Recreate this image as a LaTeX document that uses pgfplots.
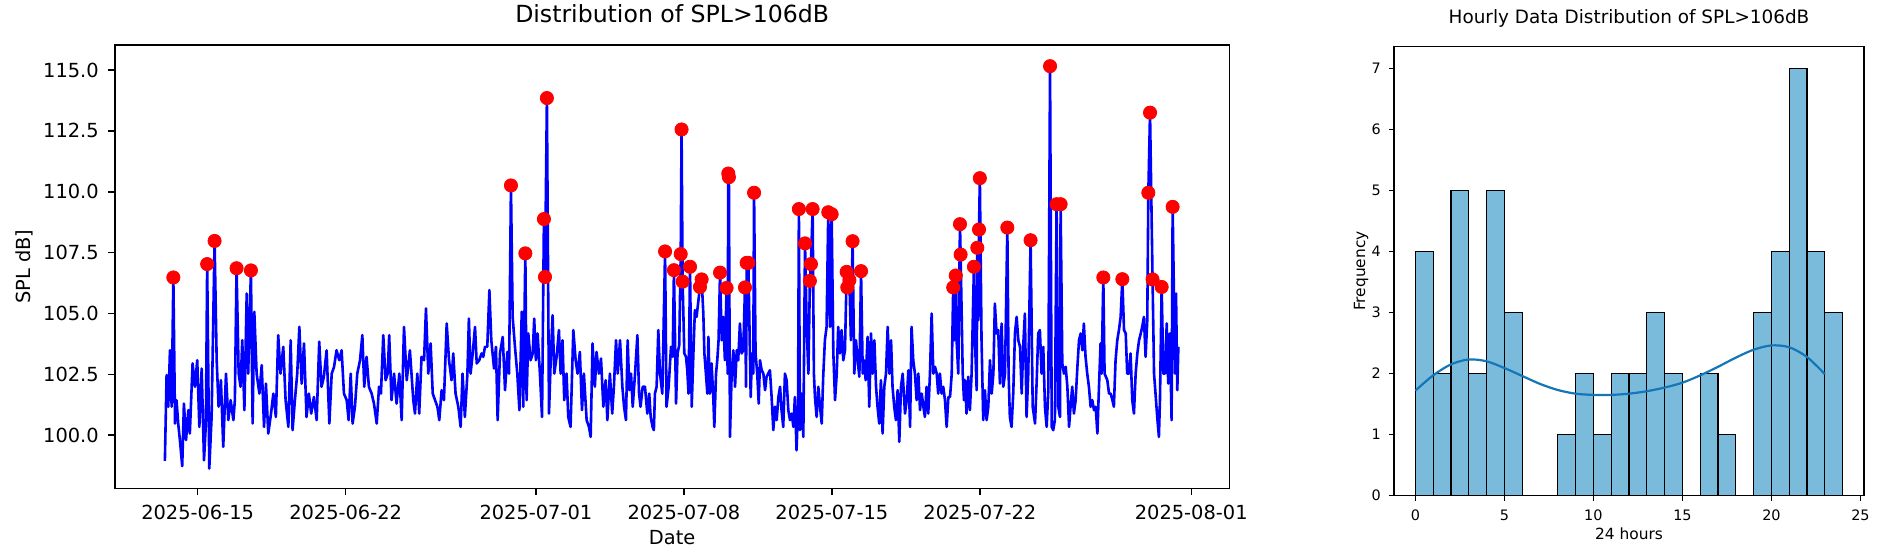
\documentclass[border=0pt]{standalone}
\usepackage{fontspec}
\setmainfont{DejaVu Sans}
\usepackage{pgfplots}
\pgfplotsset{compat=1.18}
\definecolor{histfill}{RGB}{122,187,220}
\definecolor{kdeline}{RGB}{20,118,182}
\begin{document}
\begin{tikzpicture}
\path[use as bounding box] (0,0) rectangle (942.5pt,280pt);
\begin{axis}[
  at={(57.5pt,35.85pt)}, anchor=south west,
  width=557.15pt, height=221.65pt, scale only axis,
  xmin=-3.91, xmax=48.8, ymin=97.82, ymax=116.03,
  xtick={0,7,16,23,30,37,47},
  xticklabels={2025-06-15,2025-06-22,2025-07-01,2025-07-08,2025-07-15,2025-07-22,2025-08-01},
  ytick={100,102.5,105,107.5,110,112.5,115},
  yticklabels={100.0,102.5,105.0,107.5,110.0,112.5,115.0},
  tick align=outside, tick pos=left, major tick length=3.4pt,
  tick style={black, line width=0.75pt},
  axis line style={black, line width=0.75pt},
  ticklabel style={font=\fontsize{9.7}{10}\selectfont},
  xticklabel style={yshift=-1.5pt},
  yticklabel style={xshift=-1.2pt},
  title={Distribution of SPL>106dB},
  title style={at={(axis description cs:0.5,1.0435)}, anchor=center, font=\fontsize{11.8}{12}\selectfont},
  xlabel={Date},
  xlabel style={at={(axis description cs:0.5,-0.111)}, anchor=center, font=\fontsize{9.7}{10}\selectfont},
  ylabel={SPL dB]},
  ylabel style={at={(axis description cs:-0.0812,0.5)}, anchor=center, font=\fontsize{9.7}{10}\selectfont},
  clip=true,
]
\addplot[only marks, mark=*, mark size=3.3pt, color=red, mark options={fill=red, draw=red}] coordinates {
(-1.15,106.48) (0.45,107.03) (0.80,107.98) (1.84,106.86) (2.52,106.77)
(14.82,110.26) (15.50,107.47) (16.38,108.88) (16.43,106.50) (16.52,113.85)
(22.11,107.55) (22.53,106.78) (22.85,107.44) (22.89,112.56) (22.94,106.31)
(23.29,106.92) (23.76,106.09) (23.84,106.40) (24.71,106.68) (25.02,106.05)
(25.10,110.75) (25.13,110.60) (25.89,106.07) (25.97,107.08) (26.05,107.08)
(26.32,109.96) (28.44,109.29) (28.73,107.88) (28.96,106.34) (29.01,107.03)
(29.09,109.29) (29.83,109.16) (29.99,109.08) (30.70,106.71) (30.73,106.07)
(30.83,106.37) (30.98,107.97) (31.38,106.74) (35.74,106.07) (35.86,106.56)
(36.06,108.67) (36.09,107.42) (36.72,106.92) (36.88,107.70) (36.96,108.45)
(37.00,110.56) (38.30,108.53) (39.40,108.01) (40.32,115.16) (40.63,109.49)
(40.82,109.49) (42.84,106.48) (43.74,106.41) (44.97,109.96) (45.05,113.25)
(45.17,106.40) (45.60,106.09) (46.12,109.38)
};
\addplot[color=blue, line width=1.3pt, line join=round, mark=none] coordinates {
(-1.55,98.95) (-1.47,102.47) (-1.39,101.17) (-1.31,103.49) (-1.23,101.17) (-1.15,106.48) (-1.07,100.48) (-1.00,101.44) (-0.92,100.48) (-0.84,99.80)
(-0.73,98.73) (-0.65,101.30) (-0.55,99.80) (-0.44,101.03) (-0.37,100.07) (-0.24,102.95) (-0.13,101.99) (-0.02,103.08) (0.08,100.34) (0.19,102.74)
(0.30,98.97) (0.39,100.48) (0.45,107.03) (0.55,98.63) (0.66,100.75) (0.80,107.98) (0.90,103.08) (0.99,101.17) (1.10,102.26) (1.21,99.52)
(1.34,102.53) (1.45,100.62) (1.56,101.44) (1.69,100.62) (1.76,101.44) (1.84,106.86) (1.94,102.53) (2.03,101.99) (2.11,103.90) (2.21,101.03)
(2.32,105.82) (2.39,102.53) (2.52,106.77) (2.60,100.48) (2.68,105.07) (2.79,102.53) (2.92,101.71) (3.03,102.88) (3.14,100.34) (3.23,102.12)
(3.34,100.07) (3.47,100.89) (3.58,101.71) (3.70,100.75) (3.81,104.11) (3.92,102.53) (4.05,103.63) (4.16,101.44) (4.29,100.34) (4.40,103.90)
(4.49,100.21) (4.60,101.44) (4.71,102.53) (4.81,104.45) (4.92,102.12) (5.03,103.77) (5.15,100.75) (5.26,101.71) (5.37,100.89) (5.50,101.57)
(5.63,100.62) (5.75,103.84) (5.86,101.99) (5.97,102.40) (6.10,103.49) (6.23,100.48) (6.34,102.53) (6.45,102.80) (6.57,103.49) (6.70,103.08)
(6.81,103.49) (6.92,101.71) (7.05,101.44) (7.14,100.62) (7.24,102.53) (7.33,100.48) (7.44,101.17) (7.55,102.53) (7.68,103.08) (7.79,104.11)
(7.88,101.99) (7.99,103.22) (8.10,101.99) (8.23,101.71) (8.34,101.30) (8.47,100.48) (8.58,101.99) (8.67,101.71) (8.78,104.11) (8.89,102.26)
(8.99,102.53) (9.06,104.11) (9.17,101.44) (9.29,102.53) (9.41,101.30) (9.54,102.53) (9.65,100.62) (9.76,104.45) (9.89,102.26) (10.04,103.49)
(10.20,101.44) (10.28,100.89) (10.39,102.53) (10.48,100.89) (10.59,103.22) (10.71,103.08) (10.80,105.21) (10.91,102.53) (11.02,103.77) (11.12,101.71)
(11.23,101.44) (11.34,101.17) (11.43,100.62) (11.54,101.85) (11.65,101.44) (11.78,104.59) (11.89,103.08) (12.01,102.26) (12.09,103.36) (12.20,101.71)
(12.33,101.17) (12.44,100.34) (12.53,102.53) (12.64,100.75) (12.76,102.53) (12.83,104.79) (12.91,102.53) (13.01,103.36) (13.12,104.45) (13.20,102.95)
(13.32,103.08) (13.43,103.36) (13.51,103.22) (13.59,103.63) (13.70,103.63) (13.80,105.96) (13.89,103.90) (14.02,102.74) (14.11,103.63) (14.19,100.62)
(14.30,103.36) (14.43,104.04) (14.54,101.85) (14.65,103.42) (14.73,102.53) (14.82,110.26) (14.90,104.86) (15.01,103.63) (15.12,102.53) (15.22,101.03)
(15.33,105.07) (15.40,101.17) (15.50,107.47) (15.56,101.44) (15.64,104.18) (15.75,103.08) (15.85,103.36) (15.92,104.79) (16.00,103.08) (16.08,104.18)
(16.19,102.53) (16.29,100.75) (16.38,108.88) (16.43,106.50) (16.52,113.85) (16.62,100.89) (16.70,103.08) (16.79,104.93) (16.87,102.53) (16.98,103.22)
(17.09,104.32) (17.17,102.53) (17.26,103.90) (17.34,101.44) (17.45,102.53) (17.53,100.75) (17.64,100.34) (17.77,104.32) (17.88,103.08) (17.97,102.53)
(18.08,103.42) (18.18,101.03) (18.27,102.53) (18.40,100.62) (18.51,100.34) (18.59,99.93) (18.68,103.77) (18.79,101.99) (18.87,103.42) (18.98,102.53)
(19.08,103.15) (19.19,101.17) (19.30,102.26) (19.38,100.62) (19.50,102.53) (19.61,100.89) (19.69,101.99) (19.79,103.90) (19.87,102.53) (19.98,103.90)
(20.09,101.99) (20.17,101.17) (20.26,100.62) (20.34,103.90) (20.42,101.85) (20.50,102.53) (20.58,101.17) (20.69,102.53) (20.80,104.11) (20.88,101.71)
(20.95,101.17) (21.05,101.99) (21.16,101.99) (21.27,100.89) (21.36,101.71) (21.43,100.75) (21.52,100.34) (21.58,100.21) (21.63,101.71) (21.71,101.99)
(21.79,104.32) (21.87,102.53) (21.98,101.71) (22.11,107.55) (22.18,101.17) (22.28,101.99) (22.39,103.63) (22.47,103.22) (22.53,106.78) (22.63,101.30)
(22.70,103.36) (22.78,103.70) (22.85,107.44) (22.89,112.56) (22.94,106.31) (23.02,103.36) (23.10,103.22) (23.16,102.67) (23.22,101.71) (23.29,106.92)
(23.37,101.17) (23.45,103.36) (23.52,105.14) (23.60,104.86) (23.76,106.09) (23.84,106.40) (23.92,105.00) (23.97,103.36) (24.03,102.67) (24.11,101.71)
(24.16,104.04) (24.23,101.71) (24.31,102.95) (24.39,101.57) (24.44,100.34) (24.52,102.53) (24.58,103.08) (24.64,103.90) (24.71,106.68) (24.79,103.90)
(24.86,104.86) (24.94,103.08) (25.02,106.05) (25.07,102.53) (25.10,110.75) (25.13,110.60) (25.18,99.93) (25.26,102.53) (25.34,103.49) (25.42,101.99)
(25.50,103.49) (25.57,103.08) (25.65,104.59) (25.73,103.36) (25.81,103.49) (25.89,106.07) (25.94,101.99) (25.97,107.08) (26.01,104.50) (26.05,107.08)
(26.16,101.57) (26.22,103.36) (26.28,102.53) (26.32,109.96) (26.39,103.36) (26.47,102.53) (26.54,101.30) (26.60,103.08) (26.68,102.67) (26.76,102.53)
(26.84,101.85) (26.91,102.40) (26.99,102.53) (27.07,102.67) (27.15,101.57) (27.23,100.21) (27.31,101.17) (27.39,100.62) (27.47,101.57) (27.55,101.99)
(27.62,101.03) (27.70,100.34) (27.78,102.53) (27.86,102.26) (27.94,101.03) (28.02,100.62) (28.10,100.89) (28.18,100.34) (28.25,101.57) (28.33,99.38)
(28.40,101.17) (28.44,109.29) (28.49,100.21) (28.57,101.71) (28.65,99.93) (28.73,107.88) (28.81,104.45) (28.89,102.53) (28.96,106.34) (29.01,107.03)
(29.09,109.29) (29.15,102.53) (29.20,101.57) (29.28,100.75) (29.36,101.99) (29.44,101.17) (29.52,100.48) (29.59,102.40) (29.67,103.90) (29.75,104.45)
(29.83,109.16) (29.91,104.45) (29.99,109.08) (30.07,103.36) (30.15,101.44) (30.23,102.53) (30.30,104.45) (30.38,103.36) (30.46,104.32) (30.54,103.08)
(30.62,103.49) (30.70,106.71) (30.73,106.07) (30.83,106.37) (30.90,103.90) (30.98,107.97) (31.06,102.53) (31.14,103.90) (31.22,103.08) (31.30,102.40)
(31.38,106.74) (31.46,102.53) (31.52,103.08) (31.60,102.26) (31.69,104.04) (31.77,101.17) (31.85,104.18) (31.93,102.53) (32.01,103.90) (32.09,101.99)
(32.16,101.17) (32.24,100.48) (32.32,102.26) (32.40,100.07) (32.48,101.99) (32.56,102.53) (32.64,104.45) (32.72,102.53) (32.80,103.90) (32.87,101.99)
(32.95,101.17) (33.03,100.62) (33.11,101.85) (33.19,99.73) (33.27,101.99) (33.35,102.53) (33.46,100.89) (33.54,101.44) (33.62,102.67) (33.70,100.34)
(33.77,104.45) (33.85,103.08) (33.93,102.53) (34.01,101.44) (34.09,102.53) (34.17,101.03) (34.25,101.71) (34.33,101.17) (34.40,100.75) (34.48,101.99)
(34.56,100.89) (34.64,102.53) (34.72,105.00) (34.80,102.53) (34.88,102.81) (34.96,102.53) (35.03,101.71) (35.11,102.53) (35.19,101.71) (35.27,101.99)
(35.35,101.44) (35.43,100.34) (35.51,101.57) (35.59,101.57) (35.67,102.53) (35.74,106.07) (35.79,103.90) (35.86,106.56) (35.90,103.90) (35.98,102.53)
(36.06,108.67) (36.09,107.42) (36.19,102.53) (36.25,101.44) (36.30,102.26) (36.37,100.89) (36.45,102.40) (36.53,101.03) (36.61,102.53) (36.72,106.92)
(36.77,103.90) (36.85,101.85) (36.88,107.70) (36.93,104.73) (36.96,108.45) (37.00,110.56) (37.08,103.90) (37.16,100.62) (37.24,101.85) (37.32,100.62)
(37.40,101.17) (37.48,103.08) (37.56,101.71) (37.64,102.53) (37.71,105.41) (37.79,104.18) (37.87,104.32) (37.95,102.12) (38.03,104.59) (38.11,101.99)
(38.19,102.53) (38.30,108.53) (38.36,102.53) (38.42,100.75) (38.50,100.34) (38.58,101.71) (38.66,104.18) (38.74,104.86) (38.82,103.90) (38.90,103.63)
(38.98,101.71) (39.05,103.63) (39.13,105.00) (39.21,100.75) (39.29,102.53) (39.40,108.01) (39.50,101.17) (39.61,100.48) (39.69,102.26) (39.76,104.18)
(39.84,104.32) (39.92,102.53) (40.00,103.63) (40.08,101.17) (40.16,100.34) (40.24,101.85) (40.32,115.16) (40.40,100.34) (40.47,100.21) (40.55,100.62)
(40.63,109.49) (40.71,101.17) (40.79,100.75) (40.82,109.49) (40.90,102.95) (40.98,102.53) (41.06,102.81) (41.14,101.99) (41.22,100.34) (41.29,101.17)
(41.37,101.99) (41.45,100.89) (41.53,101.44) (41.61,102.74) (41.69,103.90) (41.77,104.18) (41.85,103.49) (41.92,104.59) (42.00,103.22) (42.08,102.53)
(42.16,101.99) (42.24,101.17) (42.32,101.44) (42.40,101.03) (42.48,101.17) (42.56,100.07) (42.63,101.85) (42.71,103.77) (42.76,102.53) (42.84,106.48)
(42.90,102.53) (43.03,102.26) (43.11,101.71) (43.19,101.71) (43.27,101.44) (43.34,101.17) (43.42,103.08) (43.50,103.90) (43.58,104.32) (43.66,104.86)
(43.74,106.41) (43.82,104.32) (43.90,104.18) (43.97,102.53) (44.05,102.53) (44.13,103.36) (44.21,101.44) (44.29,100.89) (44.37,102.53) (44.45,103.36)
(44.53,103.90) (44.61,104.18) (44.68,104.45) (44.76,104.86) (44.84,103.22) (44.92,104.73) (44.97,109.96) (45.05,113.25) (45.17,106.40) (45.24,102.53)
(45.31,101.71) (45.39,100.75) (45.47,99.93) (45.52,101.44) (45.60,106.09) (45.68,102.53) (45.76,102.53) (45.84,104.59) (45.91,102.12) (45.99,104.18)
(46.07,100.62) (46.12,109.38) (46.18,105.82) (46.23,102.53) (46.28,105.82) (46.34,101.85) (46.39,103.63)
};
\end{axis}
\begin{axis}[
  at={(697pt,32.15pt)}, anchor=south west,
  width=235pt, height=224.5pt, scale only axis,
  xmin=-1.2, xmax=25.2, ymin=0, ymax=7.35,
  xtick={0,5,10,15,20,25}, xticklabels={0,5,10,15,20,25},
  ytick={0,1,2,3,4,5,6,7}, yticklabels={0,1,2,3,4,5,6,7},
  tick align=outside, tick pos=left, major tick length=2.45pt,
  tick style={black, line width=0.55pt},
  axis line style={black, line width=0.55pt},
  ticklabel style={font=\fontsize{7.2}{8}\selectfont},
  xticklabel style={yshift=-1.2pt},
  yticklabel style={xshift=-0.65pt},
  title={Hourly Data Distribution of SPL>106dB},
  title style={at={(axis description cs:0.5,1.0356)}, anchor=center, font=\fontsize{9.2}{10}\selectfont},
  xlabel={24 hours},
  xlabel style={at={(axis description cs:0.5,-0.0853)}, anchor=center, font=\fontsize{7.7}{8}\selectfont},
  ylabel={Frequency},
  ylabel style={at={(axis description cs:-0.0702,0.5)}, anchor=center, font=\fontsize{7.7}{8}\selectfont},
]
\addplot[ybar interval, fill=histfill, draw=black, line width=0.55pt] coordinates {
(0,4) (1,2) (2,5) (3,2) (4,5) (5,3) (6,0) (7,0) (8,1) (9,2) (10,1) (11,2)
(12,2) (13,3) (14,2) (15,0) (16,2) (17,1) (18,0) (19,3) (20,4) (21,7) (22,4) (23,3) (24,3)
};
\addplot[color=kdeline, line width=1.1pt, smooth, mark=none] coordinates {
(0,1.72) (1,1.97) (2,2.15) (3,2.23) (4,2.20) (5,2.09) (6,1.96) (7,1.83) (8,1.73) (9,1.67)
(10,1.65) (11,1.65) (12,1.67) (13,1.71) (14,1.77) (15,1.85) (16,1.97) (17,2.11) (18,2.26)
(19,2.39) (20,2.46) (21,2.43) (22,2.27) (23,1.99)
};
\end{axis}
\end{tikzpicture}
\end{document}
